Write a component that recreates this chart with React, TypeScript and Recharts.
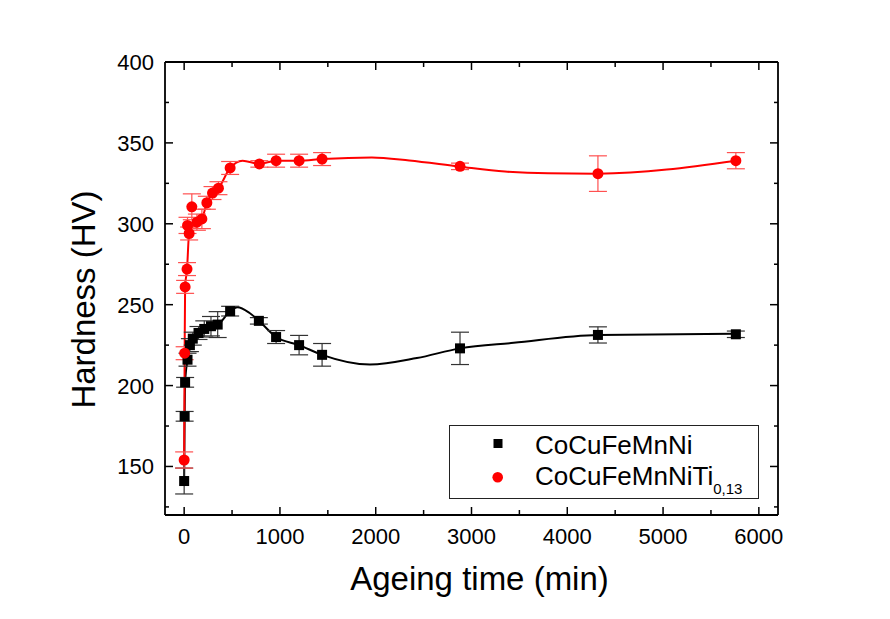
import React from 'react';
import { ComposedChart, Line, Scatter, XAxis, YAxis, ErrorBar, Legend } from 'recharts';

// Measured points (markers with error bars)
const blackTime = [0, 5, 10, 35, 60, 90, 150, 210, 280, 350, 480, 780, 960, 1200, 1440, 2880, 4320, 5760];
const blackHV = [141, 181, 202, 216, 225, 229, 232.5, 235, 236.7, 237.7, 246, 240, 230, 225, 219, 223, 231.3, 231.7];
const blackErr = [8, 3, 3, 4, 4, 4, 4, 5, 6, 8, 3, 2, 4, 6, 7, 10, 5, 2];

const redTime = [0, 5, 10, 30, 35, 52, 80, 133, 185, 237, 296, 358, 480, 785, 960, 1200, 1440, 2880, 4320, 5760];
const redHV = [154, 220, 261, 272, 299, 294, 310.5, 301, 303, 313, 319, 322, 334.5, 337, 339, 339, 340, 335.5, 331, 339];
const redErr = [5, 4, 4, 4, 5, 4, 8, 5, 6, 4, 4, 4, 4, 2, 4, 4, 4, 2, 11, 5];

// Fitted curves, points
const blackCurveTime = [0, 5, 10, 35, 60, 90, 150, 210, 280, 350, 480, 556, 680, 780, 960, 1200, 1440, 1940, 2430, 2880, 3440, 4320, 5760];
const blackCurveHV = [141, 181, 202, 216, 225, 229, 232.5, 235, 236.7, 237.7, 246, 248.4, 245, 240, 230, 225, 219, 213, 217, 223, 226.4, 231.2, 232];

const redCurveTime = [0, 5, 10, 30, 52, 133, 185, 237, 296, 358, 480, 610, 785, 960, 1200, 1440, 1960, 2350, 2880, 3350, 3800, 4320, 5760];
const redCurveHV = [154, 220, 261, 272, 294, 301, 303, 313, 319, 322, 334.5, 339, 337, 339, 339, 340, 341, 339.1, 335.3, 332.3, 331.2, 331, 339];

const xTicks = [0, 500, 1000, 1500, 2000, 2500, 3000, 3500, 4000, 4500, 5000, 5500, 6000];
const yTicks = [125, 150, 175, 200, 225, 250, 275, 300, 325, 350, 375, 400];

const FONT = '"Liberation Sans", Arial, sans-serif';

const blackPts = blackTime.map((t, i) => ({ t, hv: blackHV[i], err: blackErr[i] }));
const redPts = redTime.map((t, i) => ({ t, hv: redHV[i], err: redErr[i] }));
const blackCurve = blackCurveTime.map((t, i) => ({ t, hv: blackCurveHV[i] }));
const redCurve = redCurveTime.map((t, i) => ({ t, hv: redCurveHV[i] }));

const BottomTick = (props: any) => {
  const { x, y, payload } = props;
  const major = payload.value % 1000 === 0;
  return (
    <g>
      <line x1={x} x2={x} y1={y} y2={y - (major ? 8 : 5)} stroke="#000" strokeWidth={1.5} />
      {major && (
        <text x={x} y={y + 29} textAnchor="middle" fontSize={22} fontFamily={FONT} fill="#000">
          {payload.value}
        </text>
      )}
    </g>
  );
};

const TopTick = (props: any) => {
  const { x, y, payload } = props;
  const major = payload.value % 1000 === 0;
  return <line x1={x} x2={x} y1={y} y2={y + (major ? 8 : 5)} stroke="#000" strokeWidth={1.5} />;
};

const LeftTick = (props: any) => {
  const { x, y, payload } = props;
  const major = payload.value % 50 === 0;
  return (
    <g>
      <line x1={x} x2={x + (major ? 8 : 4)} y1={y} y2={y} stroke="#000" strokeWidth={1.5} />
      {major && (
        <text x={x - 11} y={y + 8} textAnchor="end" fontSize={22} fontFamily={FONT} fill="#000">
          {payload.value}
        </text>
      )}
    </g>
  );
};

const RightTick = (props: any) => {
  const { x, y, payload } = props;
  const major = payload.value % 50 === 0;
  return <line x1={x} x2={x - (major ? 8 : 4)} y1={y} y2={y} stroke="#000" strokeWidth={1.5} />;
};

const XTitle = (props: any) => {
  const vb = props.viewBox || {};
  return (
    <text x={vb.x + vb.width / 2 + 8} y={vb.y + 75} textAnchor="middle" fontSize={33} fontFamily={FONT} fill="#000">
      Ageing time (min)
    </text>
  );
};

const YTitle = (props: any) => {
  const vb = props.viewBox || {};
  const cx = 95;
  const cy = vb.y + vb.height / 2 + 11;
  return (
    <text x={cx} y={cy} transform={`rotate(-90 ${cx} ${cy})`} textAnchor="middle" fontSize={33} fontFamily={FONT} fill="#000">
      Hardness (HV)
    </text>
  );
};

const LegendBox = () => (
  <div style={{ width: 310, height: 74, boxSizing: 'border-box', border: '1px solid #222', background: '#fff', position: 'relative' }}>
    <svg width={310} height={74} style={{ position: 'absolute', left: -1, top: -1 }}>
      <rect x={44.5} y={14} width={9} height={9} fill="#000" />
      <circle cx={48.7} cy={52.3} r={5.3} fill="#ff0000" />
      <text x={86} y={29} fontSize={26} fontFamily={FONT} fill="#000">CoCuFeMnNi</text>
      <text x={86} y={60} fontSize={26} fontFamily={FONT} fill="#000">
        CoCuFeMnNiTi
        <tspan fontSize={15} dy={9}>0,13</tspan>
      </text>
    </svg>
  </div>
);

const Square = (p: any) => <rect x={p.cx - 5} y={p.cy - 5} width={10} height={10} fill="#000" />;
const Dot = (p: any) => <circle cx={p.cx} cy={p.cy} r={5.5} fill="#ff0000" />;

export default function App() {
  return (
    <div style={{ position: 'absolute', left: 0, top: 0, width: 890, height: 619, background: '#fff' }}>
      <ComposedChart width={890} height={619} margin={{ top: 0, right: 0, bottom: 0, left: 0 }}>
        <XAxis
          xAxisId={0}
          dataKey="t"
          type="number"
          domain={[-200, 6200]}
          ticks={xTicks}
          allowDataOverflow
          height={104}
          tickLine={false}
          tickSize={0}
          tickMargin={0}
          tick={<BottomTick />}
          axisLine={{ stroke: '#000', strokeWidth: 1.8 }}
          label={<XTitle />}
        />
        <XAxis
          xAxisId="top"
          orientation="top"
          dataKey="t"
          type="number"
          domain={[-200, 6200]}
          ticks={xTicks}
          allowDataOverflow
          height={62}
          tickLine={false}
          tickSize={0}
          tickMargin={0}
          tick={<TopTick />}
          axisLine={{ stroke: '#000', strokeWidth: 1.8 }}
        />
        <YAxis
          yAxisId={0}
          type="number"
          domain={[120, 400]}
          ticks={yTicks}
          allowDataOverflow
          width={165}
          tickLine={false}
          tickSize={0}
          tickMargin={0}
          tick={<LeftTick />}
          axisLine={{ stroke: '#000', strokeWidth: 1.8 }}
          label={<YTitle />}
        />
        <YAxis
          yAxisId="right"
          orientation="right"
          type="number"
          domain={[120, 400]}
          ticks={yTicks}
          allowDataOverflow
          width={112}
          tickLine={false}
          tickSize={0}
          tickMargin={0}
          tick={<RightTick />}
          axisLine={{ stroke: '#000', strokeWidth: 1.8 }}
        />
        <Line
          data={blackCurve}
          dataKey="hv"
          type="monotone"
          stroke="#000"
          strokeWidth={2}
          dot={false}
          activeDot={false}
          isAnimationActive={false}
          legendType="none"
        />
        <Line
          data={redCurve}
          dataKey="hv"
          type="monotone"
          stroke="#ff0000"
          strokeWidth={2}
          dot={false}
          activeDot={false}
          isAnimationActive={false}
          legendType="none"
        />
        <Scatter data={blackPts} dataKey="hv" shape={<Square />} isAnimationActive={false} name="CoCuFeMnNi">
          <ErrorBar dataKey="err" direction="y" width={9} stroke="#333" strokeWidth={1.2} />
        </Scatter>
        <Scatter data={redPts} dataKey="hv" shape={<Dot />} isAnimationActive={false} name="CoCuFeMnNiTi0,13">
          <ErrorBar dataKey="err" direction="y" width={9} stroke="#ff5050" strokeWidth={1.2} />
        </Scatter>
        <Legend
          layout="horizontal"
          verticalAlign="middle"
          align="center"
          wrapperStyle={{ position: 'absolute', left: 449, top: 425, width: 310, height: 74 }}
          content={() => <LegendBox />}
        />
      </ComposedChart>
    </div>
  );
}
